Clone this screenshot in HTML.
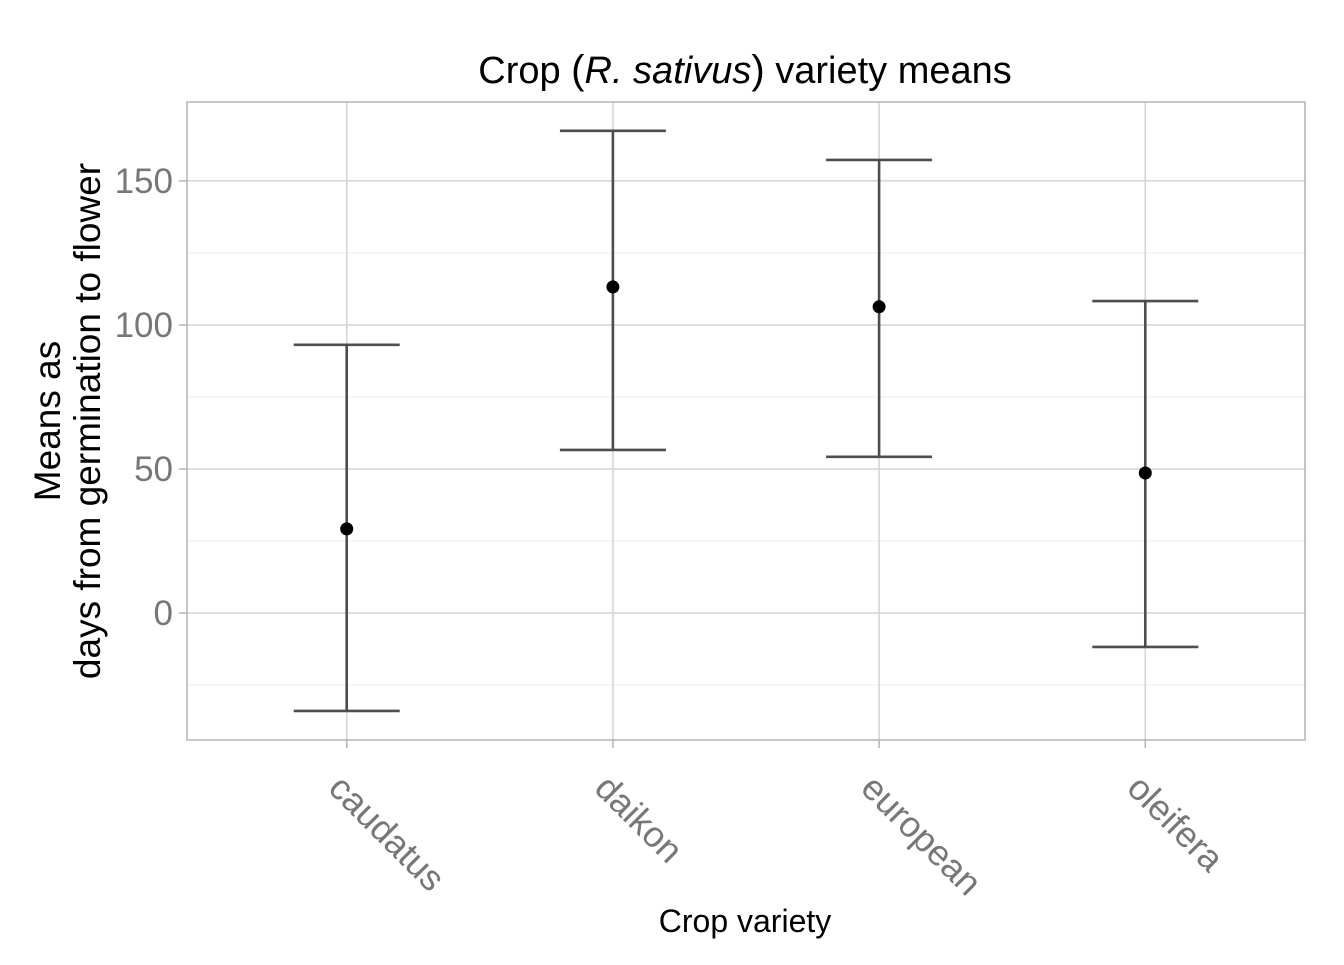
<!DOCTYPE html>
<html><head><meta charset="utf-8"><style>
body{margin:0;background:#fff;}
text{font-family:"Liberation Sans",sans-serif;}
</style></head><body>
<svg id="chart" width="1344" height="960" xmlns="http://www.w3.org/2000/svg">
<rect width="1344" height="960" fill="#fff"/>
<g id="grid"></g>
<g id="marks"></g>
<g id="axes"></g>
<text x="745" y="83" font-size="38" text-anchor="middle">Crop <tspan font-size="40">(</tspan><tspan font-style="italic">R. sativus</tspan><tspan font-size="40">)</tspan> variety means</text>
<text x="745" y="932" font-size="32" text-anchor="middle">Crop variety</text>
<text transform="translate(60,421) rotate(-90)" font-size="37" text-anchor="middle"><tspan x="0" dy="0">Means as</tspan><tspan x="0" dy="40">days from germination to flower</tspan></text>
</svg>
<script>
const categories = ["caudatus","daikon","european","oleifera"];
const means = [29.2, 113.2, 106.3, 48.6];
const upper = [93.1, 167.4, 157.3, 108.3];
const lower = [-34.0, 56.6, 54.2, -11.8];
const yTicks = [0, 50, 100, 150];
const yMinor = [-25, 25, 75, 125];

const L=187, R=1305, T=102, B=740;
const yMin=-44.1, yMax=177.4;
const y = v => B - (v - yMin)/(yMax - yMin)*(B - T);
const x = i => L + (i + 1 - 0.4)/4.2*(R - L);
const NS="http://www.w3.org/2000/svg";
function mk(tag, attrs, parent){const e=document.createElementNS(NS,tag);for(const k in attrs)e.setAttribute(k,attrs[k]);parent.appendChild(e);return e;}
const grid=document.getElementById('grid'), marks=document.getElementById('marks'), axes=document.getElementById('axes');

yMinor.forEach(v=>{const l=mk('line',{x1:L,x2:R,y1:y(v),y2:y(v),stroke:'#ededed','stroke-width':1},grid);

});
yTicks.forEach(v=>{const l=mk('line',{x1:L,x2:R,y1:y(v),y2:y(v),stroke:'#d3d3d3','stroke-width':1.5},grid);


const t=mk('line',{x1:L-8,x2:L,y1:y(v),y2:y(v),stroke:'#b3b3b3','stroke-width':1.5},axes);


const tx=mk('text',{x:L-14,y:y(v)+12,'font-size':35,'text-anchor':'end',fill:'#777'},axes);
tx.textContent=v;

});
categories.forEach((c,i)=>{const l=mk('line',{x1:x(i),x2:x(i),y1:T,y2:B,stroke:'#d3d3d3','stroke-width':1.5},grid);


const t=mk('line',{x1:x(i),x2:x(i),y1:B,y2:B+8,stroke:'#b3b3b3','stroke-width':1.5},axes);


const tx=mk('text',{transform:`translate(${x(i)-20},${B+50}) rotate(45)`,'font-size':36,fill:'#777'},axes);
tx.textContent=c;


const g=mk('g',{},marks);


const st={stroke:'#4d4d4d','stroke-width':2.6};
mk('line',Object.assign({x1:x(i),x2:x(i),y1:y(upper[i]),y2:y(lower[i])},st),g);
mk('line',Object.assign({x1:x(i)-53,x2:x(i)+53,y1:y(upper[i]),y2:y(upper[i])},st),g);
mk('line',Object.assign({x1:x(i)-53,x2:x(i)+53,y1:y(lower[i]),y2:y(lower[i])},st),g);
const p=mk('circle',{cx:x(i),cy:y(means[i]),r:6.5,fill:'#000'},marks);

});
const fr=mk('rect',{x:L,y:T,width:R-L,height:B-T,fill:'none',stroke:'#b3b3b3','stroke-width':1.5},axes);


</script>
</body></html>
